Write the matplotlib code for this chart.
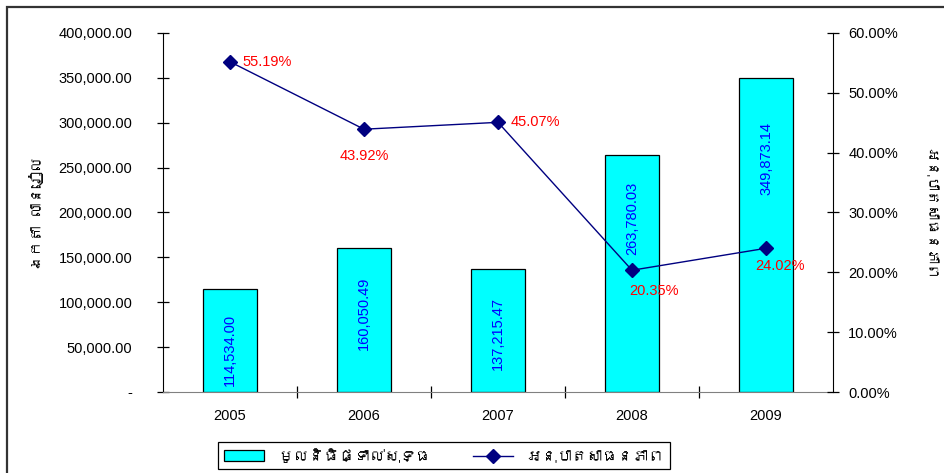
import matplotlib
matplotlib.use("Agg")
import matplotlib.pyplot as plt
import matplotlib.patches as mpatches
from matplotlib import font_manager
from matplotlib.ft2font import FT2Font
from matplotlib.ticker import FuncFormatter, FixedLocator
import numpy as np

years = ["2005", "2006", "2007", "2008", "2009"]
net_fund = [114534.00, 160050.49, 137215.47, 263780.03, 349873.14]
ratio_pct = [55.19, 43.92, 45.07, 20.35, 24.02]

bar_name = "មូលនិធិផ្ទាល់សុទ្ធ"
line_name = "អនុបាតសាធនភាព"
left_title = "ឯកតា លានរៀល"
right_title = "អនុបាតសាធនភាព"


def find_khmer_family():
    # look for any installed font that actually has Khmer glyphs
    for f in font_manager.fontManager.ttflist:
        try:
            if 0x1780 in FT2Font(f.fname).get_charmap():
                return f.name
        except Exception:
            continue
    return None


khmer = find_khmer_family()
base = ["Liberation Sans", "DejaVu Sans"]
kh_family = ([khmer] if khmer else []) + base
plt.rcParams["font.family"] = base

W, H = 944, 473
fig = plt.figure(figsize=(W / 100, H / 100), dpi=100)

# outer chart frame (runs off the right and bottom edges)
fig.patches.append(mpatches.Rectangle((7 / W, -0.05), 1.1, 1 - 7 / H + 0.05,
                                      transform=fig.transFigure, fill=False,
                                      edgecolor="#333333", linewidth=1.6))

ax = fig.add_axes([163 / W, 1 - 392 / H, 670 / W, 359 / H])
ax2 = ax.twinx()

x = np.arange(len(years))
ax.bar(x, net_fund, width=0.40, color="#00FFFF", edgecolor="black",
       linewidth=0.9, label=bar_name, zorder=2)
ax.set_xlim(-0.5, len(years) - 0.5)
ax.set_ylim(0, 400000)
ax.yaxis.set_major_locator(FixedLocator(np.arange(0, 400001, 50000)))
ax.yaxis.set_major_formatter(
    FuncFormatter(lambda v, p: "-" if v == 0 else f"{v:,.2f}"))

# bar value labels, rotated, inside the bars
label_drop = [18, 20, 20, 19, 32]
for xi, v, d in zip(x, net_fund, label_drop):
    ax.annotate(f"{v:,.2f}", (xi, v), xytext=(0, -d), textcoords="offset points",
                rotation=90, ha="center", va="top", color="#0000FF",
                fontsize=10.5, zorder=5)

ax2.plot(x, ratio_pct, color="#000080", linewidth=1.0, marker="D",
         markersize=7, markerfacecolor="#000080", markeredgecolor="#000080",
         label=line_name, zorder=4)
ax2.set_ylim(0, 60)
ax2.yaxis.set_major_locator(FixedLocator(np.arange(0, 61, 10)))
ax2.yaxis.set_major_formatter(FuncFormatter(lambda v, p: f"{v:.2f}%"))

pct_offsets = [(9, 0, "left", "center"), (0, -19, "center", "center"),
               (9, 0, "left", "center"), (16, -15, "center", "center"),
               (10, -13, "center", "center")]
for xi, v, (dx, dy, ha, va) in zip(x, ratio_pct, pct_offsets):
    ax2.annotate(f"{v:.2f}%", (xi, v), xytext=(dx, dy),
                 textcoords="offset points", ha=ha, va=va, color="#FF0000",
                 fontsize=10.5, zorder=6)

# axes styling
for a in (ax, ax2):
    a.spines["top"].set_visible(False)
    a.patch.set_visible(False)
ax.spines["right"].set_visible(False)
ax2.spines["left"].set_visible(False)
ax2.spines["bottom"].set_visible(False)
ax.spines["left"].set_color("black")
ax2.spines["right"].set_color("black")
ax.spines["bottom"].set_color("#808080")

ax.tick_params(axis="y", direction="inout", length=8, width=0.9,
               labelsize=10.5, pad=18)
ax2.tick_params(axis="y", direction="inout", length=8, width=0.9,
                labelsize=10.5, pad=7)

ax.set_xticks(x)
ax.set_xticklabels(years)
ax.set_xticks(np.arange(0.5, len(years) - 1, 1.0), minor=True)
ax.tick_params(axis="x", which="major", length=0, labelsize=10.5, pad=12)
ax.tick_params(axis="x", which="minor", direction="inout", length=8,
               width=0.9, color="black")

fig.text(36 / W, 1 - 214 / H, left_title, rotation=90, ha="center",
         va="center", fontsize=11, family=kh_family)
fig.text(930 / W, 1 - 214 / H, right_title, rotation=270, ha="center",
         va="center", fontsize=10.5, family=kh_family)

handles = [mpatches.Patch(facecolor="#00FFFF", edgecolor="black",
                          linewidth=0.9, label=bar_name),
           ax2.get_lines()[0]]
leg = fig.legend(handles=handles, labels=[bar_name, line_name], loc="center",
                 bbox_to_anchor=(444 / W, 1 - 455.5 / H), ncol=2,
                 fancybox=False, edgecolor="black", framealpha=1,
                 columnspacing=2.8, handlelength=2.6, handletextpad=0.9,
                 borderpad=0.4, prop={"family": kh_family, "size": 11})
leg.get_frame().set_linewidth(0.9)

fig.savefig("out.png", dpi=100)
